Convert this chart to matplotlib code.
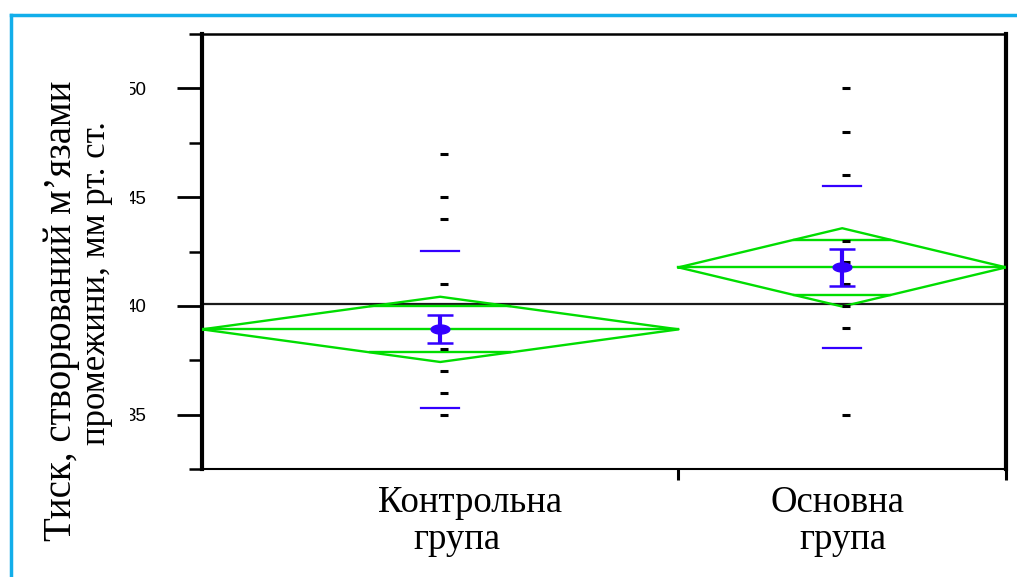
import numpy as np
import matplotlib.pyplot as plt
from matplotlib.path import Path
from matplotlib.lines import Line2D
from matplotlib.transforms import Bbox, TransformedBbox

groups = ["Контрольна\nгрупа", "Основна\nгрупа"]
group_n = [32, 22]
points = [
    [47, 45, 44, 41, 39, 38, 37, 36, 35],
    [50, 48, 46, 43, 42, 41, 40, 39, 35],
]
means = [38.92, 41.77]
ci_half = [1.50, 1.80]
se = [0.64, 0.86]
sd = [3.60, 3.72]
y_ticks = [35, 40, 45, 50]
y_minor = [32.5, 37.5, 42.5, 47.5, 52.5]

green = "#00dd00"
blue = "#3300ff"

fig = plt.figure(figsize=(10.17, 5.77), dpi=100)
ax = fig.add_axes([202 / 1017, 1 - 469 / 577, (1006 - 202) / 1017, (469 - 34) / 577])

edges = np.concatenate([[0], np.cumsum(group_n)])
ax.set_xlim(0, edges[-1])
ax.set_ylim(32.5, 52.5)

# ellipse marker for the means
t = np.linspace(0, 2 * np.pi, 40)
ell = Path(np.column_stack([np.cos(t), 0.48 * np.sin(t)]))

grand = np.average(means, weights=group_n)
ax.axhline(grand, color="#1a1a1a", lw=1.6, zorder=2)

for i in range(len(groups)):
    x0, x1 = edges[i], edges[i + 1]
    xc = (x0 + x1) / 2
    m, c = means[i], ci_half[i]
    # diamond
    ax.plot([x0, xc, x1, xc, x0], [m, m + c, m, m - c, m], color=green, lw=1.7, zorder=3)
    ax.plot([x0, x1], [m, m], color=green, lw=1.7, zorder=3)
    # overlap marks
    hw = (x1 - x0) / 2 * (1 - 1 / np.sqrt(2))
    for s in (1, -1):
        ax.plot([xc - hw, xc + hw], [m + s * c / np.sqrt(2)] * 2, color=green, lw=1.7, zorder=3)
    # data points
    ax.plot([xc + 0.25] * len(points[i]), points[i], ls="none", marker="_",
            ms=6, mew=2.2, color="black", zorder=4)
    # std dev lines
    for s in (1, -1):
        ax.plot([xc - 1.28, xc + 1.28], [m + s * sd[i]] * 2, color=blue, lw=1.6, zorder=5)
    # std error bar
    ax.errorbar([xc], [m], yerr=[se[i]], fmt="none", ecolor=blue, elinewidth=3,
                capsize=9.5, capthick=1.8, zorder=6)
    ax.plot([xc], [m], marker=ell, ms=13.5, color=blue, ls="none", zorder=7)

# axes styling
for side in ["left", "right", "top", "bottom"]:
    ax.spines[side].set_color("black")
ax.spines["left"].set_linewidth(3)
ax.spines["right"].set_linewidth(3)
ax.spines["top"].set_linewidth(1.8)
ax.spines["bottom"].set_linewidth(1.5)

ax.set_yticks(y_ticks)
ax.set_yticklabels([str(v) for v in y_ticks], family="Liberation Sans", fontsize=13.5)
ax.set_yticks(y_minor, minor=True)
ax.tick_params(axis="y", which="major", length=18, width=2, pad=22)
ax.tick_params(axis="y", which="minor", length=9.5, width=1.8)

ax.set_xticks(edges[1:])
ax.set_xticklabels([])
ax.tick_params(axis="x", which="major", length=8, width=2.2)
ax.tick_params(axis="x", which="minor", bottom=False)

# tick labels are cut on their left side in the original
clip = TransformedBbox(Bbox([[130 / 1017, 0], [1, 1]]), fig.transFigure)
for lab in ax.get_yticklabels():
    lab.set_clip_box(clip)
    lab.set_clip_on(True)

serif = "Liberation Serif"
fig.text(470 / 1017, 1 - 503 / 577, "Контрольна", ha="center", va="center", family=serif, fontsize=26.5)
fig.text(457 / 1017, 1 - 540 / 577, "група", ha="center", va="center", family=serif, fontsize=26.5)
fig.text(838 / 1017, 1 - 503 / 577, "Основна", ha="center", va="center", family=serif, fontsize=26.5)
fig.text(843 / 1017, 1 - 540 / 577, "група", ha="center", va="center", family=serif, fontsize=26.5)

fig.text(62 / 1017, 1 - 311 / 577, "Тиск, створюваний м’язами", rotation=90,
         ha="center", va="center", family=serif, fontsize=28)
fig.text(97 / 1017, 1 - 283 / 577, "промежини, мм рт. ст.", rotation=90,
         ha="center", va="center", family=serif, fontsize=25)

# cyan frame on the top and left
fig.add_artist(Line2D([11 / 1017, 11 / 1017], [0, 1 - 15 / 577], color="#12aeea", lw=2.5))
fig.add_artist(Line2D([11 / 1017, 1], [1 - 15 / 577, 1 - 15 / 577], color="#12aeea", lw=2.5))

fig.savefig("out.png", dpi=100)
